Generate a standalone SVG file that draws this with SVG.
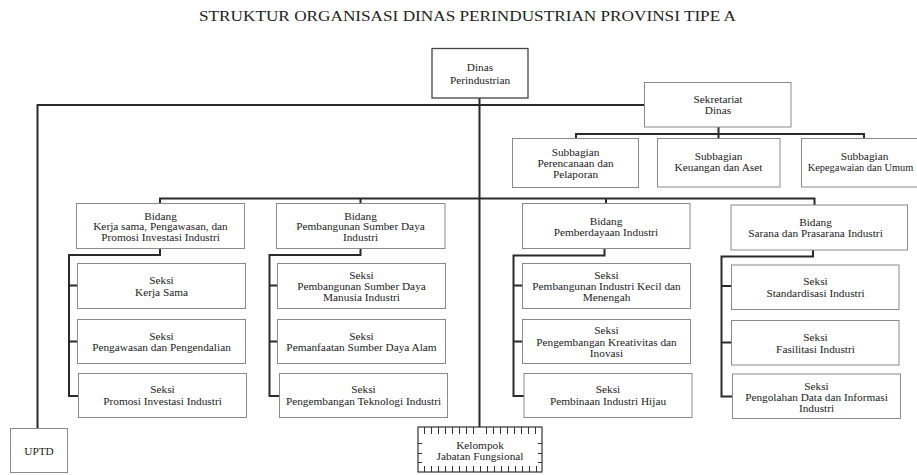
<svg xmlns="http://www.w3.org/2000/svg" width="917" height="475" viewBox="0 0 917 475">
<style>
  .box{fill:#fff;stroke:#8a8a8a;stroke-width:1}
  .dbox{fill:#fff;stroke:#444;stroke-width:1.3}
  .t{font-family:"Liberation Serif","Times New Roman",serif;font-size:11.3px;fill:#222;text-anchor:middle}
  .title{font-family:"Liberation Serif","Times New Roman",serif;font-size:14px;fill:#222;text-anchor:middle}
  .c{fill:none;stroke:#2a2a2a;stroke-width:2}
  .tick{stroke:#333;stroke-width:1}
</style>
<rect width="917" height="475" fill="#fff"/>
<text class="title" x="467.5" y="21" textLength="537" lengthAdjust="spacingAndGlyphs">STRUKTUR ORGANISASI DINAS PERINDUSTRIAN PROVINSI TIPE A</text>

<g id="connectors">
  <path class="c" d="M479.5,98 V427"/>
  <path class="c" d="M644,105 H37.5 V428"/>
  <path class="c" d="M718.5,127 V134 M576,138.5 V134 H864 V138.5 M718.5,134 V138.5"/>
  <path class="c" d="M160,203.5 V198.5 H814.5 V205 M360.5,198.5 V203.5 M606,198.5 V203.5"/>
  <path class="c" d="M160,248.5 V255 H69 V396 H78.5 M69,285.5 H77.5 M69,341.5 H77.5"/>
  <path class="c" d="M360.5,248.5 V255 H269.5 V396 H279.5 M269.5,285.5 H277.5 M269.5,341.5 H277.5"/>
  <path class="c" d="M604.5,248.5 V255.5 H513.5 V396 H524 M513.5,285.5 H522.5 M513.5,341.5 H522.5"/>
  <path class="c" d="M813,250 V256.5 H721.5 V396.5 H732.5 M721.5,286 H731.5 M721.5,342.5 H731.5"/>
</g>

<g id="dinas">
  <rect class="dbox" x="432" y="48.5" width="96" height="49.5"/>
  <text class="t" x="480" y="71">Dinas</text>
  <text class="t" x="480" y="83.5">Perindustrian</text>
</g>
<g id="sekretariat">
  <rect class="box" x="644.5" y="82.5" width="146.5" height="44.5"/>
  <text class="t" x="718" y="102.5">Sekretariat</text>
  <text class="t" x="718" y="113.5">Dinas</text>
</g>
<g id="sub-perencanaan">
  <rect class="box" x="512.5" y="138.5" width="126" height="49"/>
  <text class="t" x="575.5" y="155.5">Subbagian</text>
  <text class="t" x="575.5" y="166.5">Perencanaan dan</text>
  <text class="t" x="575.5" y="177.5">Pelaporan</text>
</g>
<g id="sub-keuangan">
  <rect class="box" x="657.5" y="138.5" width="122.5" height="48.5"/>
  <text class="t" x="718.5" y="160">Subbagian</text>
  <text class="t" x="718.5" y="171">Keuangan dan Aset</text>
</g>
<g id="sub-kepegawaian">
  <rect class="box" x="801.5" y="138.5" width="116" height="48.5"/>
  <text class="t" x="864.5" y="160">Subbagian</text>
  <text class="t" x="860.5" y="171" style="font-size:10.4px">Kepegawaian dan Umum</text>
</g>

<g id="bidang-kerjasama">
  <rect class="box" x="76.5" y="203.5" width="168" height="45"/>
  <text class="t" x="160.5" y="219.5">Bidang</text>
  <text class="t" x="160.5" y="230">Kerja sama, Pengawasan, dan</text>
  <text class="t" x="160.5" y="241">Promosi Investasi Industri</text>
</g>
<g id="bidang-sdm">
  <rect class="box" x="276.5" y="203.5" width="168.5" height="45"/>
  <text class="t" x="360.5" y="219.5">Bidang</text>
  <text class="t" x="360.5" y="230">Pembangunan Sumber Daya</text>
  <text class="t" x="360.5" y="241">Industri</text>
</g>
<g id="bidang-pemberdayaan">
  <rect class="box" x="522.5" y="203.5" width="167.5" height="45"/>
  <text class="t" x="606" y="224.5">Bidang</text>
  <text class="t" x="606" y="235.5">Pemberdayaan Industri</text>
</g>
<g id="bidang-sarana">
  <rect class="box" x="731" y="205" width="176.5" height="45"/>
  <text class="t" x="815.5" y="225.5">Bidang</text>
  <text class="t" x="815.5" y="236.5">Sarana dan Prasarana Industri</text>
</g>

<g id="seksi-kerjasama">
  <rect class="box" x="77.5" y="263.5" width="168" height="45"/>
  <text class="t" x="161.5" y="284">Seksi</text>
  <text class="t" x="161.5" y="295.5">Kerja Sama</text>
</g>
<g id="seksi-pengawasan">
  <rect class="box" x="77.5" y="319.5" width="168" height="44"/>
  <text class="t" x="161.5" y="339.5">Seksi</text>
  <text class="t" x="161.5" y="351">Pengawasan dan Pengendalian</text>
</g>
<g id="seksi-promosi">
  <rect class="box" x="78.5" y="373.5" width="168" height="44"/>
  <text class="t" x="162.5" y="393">Seksi</text>
  <text class="t" x="162.5" y="405">Promosi Investasi Industri</text>
</g>

<g id="seksi-sdm">
  <rect class="box" x="277.5" y="263.5" width="168" height="45"/>
  <text class="t" x="361.5" y="278.5">Seksi</text>
  <text class="t" x="361.5" y="289.5">Pembangunan Sumber Daya</text>
  <text class="t" x="361.5" y="300.5">Manusia Industri</text>
</g>
<g id="seksi-pemanfaatan">
  <rect class="box" x="277.5" y="319.5" width="168" height="44"/>
  <text class="t" x="361.5" y="339.5">Seksi</text>
  <text class="t" x="361.5" y="351">Pemanfaatan Sumber Daya Alam</text>
</g>
<g id="seksi-teknologi">
  <rect class="box" x="279.5" y="373.5" width="168" height="44"/>
  <text class="t" x="363.5" y="393">Seksi</text>
  <text class="t" x="363.5" y="405">Pengembangan Teknologi Industri</text>
</g>

<g id="seksi-ikm">
  <rect class="box" x="522.5" y="263.5" width="168" height="45"/>
  <text class="t" x="606.5" y="278.5">Seksi</text>
  <text class="t" x="606.5" y="289.5">Pembangunan Industri Kecil dan</text>
  <text class="t" x="606.5" y="300.5">Menengah</text>
</g>
<g id="seksi-kreativitas">
  <rect class="box" x="522.5" y="319.5" width="168" height="44"/>
  <text class="t" x="606.5" y="334">Seksi</text>
  <text class="t" x="606.5" y="345.5">Pengembangan Kreativitas dan</text>
  <text class="t" x="606.5" y="356.5">Inovasi</text>
</g>
<g id="seksi-hijau">
  <rect class="box" x="524" y="373.5" width="168" height="44"/>
  <text class="t" x="608" y="393">Seksi</text>
  <text class="t" x="608" y="404.5">Pembinaan Industri Hijau</text>
</g>

<g id="seksi-standardisasi">
  <rect class="box" x="731.5" y="265" width="167.5" height="44.5"/>
  <text class="t" x="815.5" y="285">Seksi</text>
  <text class="t" x="815.5" y="296.5">Standardisasi Industri</text>
</g>
<g id="seksi-fasilitasi">
  <rect class="box" x="731.5" y="320.5" width="167.5" height="44.5"/>
  <text class="t" x="815.5" y="341">Seksi</text>
  <text class="t" x="815.5" y="352.5">Fasilitasi Industri</text>
</g>
<g id="seksi-pengolahan">
  <rect class="box" x="732.5" y="374" width="168" height="44.5"/>
  <text class="t" x="816.5" y="390">Seksi</text>
  <text class="t" x="816.5" y="400.5">Pengolahan Data dan Informasi</text>
  <text class="t" x="816.5" y="411.5">Industri</text>
</g>

<g id="uptd">
  <rect class="box" x="10.5" y="428.5" width="57" height="44"/>
  <text class="t" x="39" y="455">UPTD</text>
</g>

<g id="kelompok">
  <rect x="418" y="427" width="124" height="45" fill="#fff" stroke="#333" stroke-width="1.2"/>
  <path class="tick" d="M424.5,427 V434 M431.5,427 V434 M438.5,427 V434 M445.5,427 V434 M452.5,427 V434 M459.5,427 V434 M466.5,427 V434 M473.5,427 V434 M486.5,427 V434 M493.5,427 V434 M500.5,427 V434 M507.5,427 V434 M514.5,427 V434 M521.5,427 V434 M528.5,427 V434 M535.5,427 V434
    M424.5,472 V466 M431.5,472 V466 M438.5,472 V466 M445.5,472 V466 M452.5,472 V466 M459.5,472 V466 M466.5,472 V466 M473.5,472 V466 M480.5,472 V466 M487.5,472 V466 M494.5,472 V466 M501.5,472 V466 M508.5,472 V466 M515.5,472 V466 M522.5,472 V466 M529.5,472 V466 M536.5,472 V466
    M418,443.5 H422 M418,453.5 H422 M418,462.5 H422 M542,443.5 H538 M542,453.5 H538 M542,462.5 H538"/>
  <text class="t" x="480" y="449">Kelompok</text>
  <text class="t" x="480" y="460">Jabatan Fungsional</text>
</g>
</svg>
